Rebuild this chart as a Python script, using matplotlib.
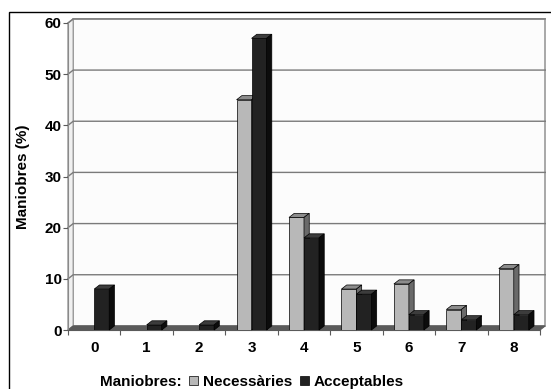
import numpy as np
import matplotlib.pyplot as plt
from matplotlib.patches import Polygon, Rectangle

plt.rcParams['font.family'] = ['Liberation Sans', 'DejaVu Sans']
plt.rcParams['font.weight'] = 'bold'

categories = ['0', '1', '2', '3', '4', '5', '6', '7', '8']
necessaries = [0, 0, 0, 45, 22, 8, 9, 4, 12]
acceptables = [8, 1, 1, 57, 18, 7, 3, 2, 3]

W, H = 551, 389
fig = plt.figure(figsize=(W / 100, H / 100), dpi=100)
ax = fig.add_axes([68 / W, 59 / H, 472 / W, 307 / H])
ax.set_xlim(-0.5, 8.5)
ax.set_ylim(0, 60)

dx, dy = 0.1, 0.8   # depth offset of the pseudo 3D box
x = np.arange(len(categories))
w = 0.286

gray = ('#b8b8b8', '#8c8c8c', '#6a6a6a')
dark = ('#222222', '#3c3c3c', '#0c0c0c')

# back wall, left wall and floor
ax.add_patch(Polygon([(-0.5 + dx, dy), (8.5 + dx, dy), (8.5 + dx, 60 + dy), (-0.5 + dx, 60 + dy)],
                     closed=True, fc='#fcfcfc', ec='#9a9a9a', lw=1.2, zorder=0, clip_on=False))
ax.add_patch(Polygon([(-0.5, 0), (-0.5 + dx, dy), (-0.5 + dx, 60 + dy), (-0.5, 60)],
                     closed=True, fc='#f0f0f0', ec='#9a9a9a', lw=1.0, zorder=0, clip_on=False))
for yv in range(10, 61, 10):
    ax.plot([-0.5, -0.5 + dx, 8.5 + dx], [yv, yv + dy, yv + dy], color='#7a7a7a', lw=1.0,
            zorder=1, clip_on=False)
ax.add_patch(Polygon([(-0.5, 0), (8.5, 0), (8.5 + dx, dy), (-0.5 + dx, dy)],
                     closed=True, fc='#5a5a5a', ec='#5a5a5a', lw=0.8, zorder=1, clip_on=False))


def bars3d(xpos, vals, colors, z):
    front, top, side = colors
    cont = ax.bar(xpos, vals, w, color=front, edgecolor='black', linewidth=0.5, zorder=z)
    for rect, v in zip(cont.patches, vals):
        if v == 0:
            rect.set_visible(False)
            continue
        L = rect.get_x()
        R = L + rect.get_width()
        h = rect.get_height()
        ax.add_patch(Polygon([(L, h), (R, h), (R + dx, h + dy), (L + dx, h + dy)], closed=True,
                             fc=top, ec='black', lw=0.5, zorder=z, clip_on=False))
        ax.add_patch(Polygon([(R, 0), (R + dx, dy), (R + dx, h + dy), (R, h)], closed=True,
                             fc=side, ec='black', lw=0.5, zorder=z, clip_on=False))
    return cont


bars3d(x - w / 2, necessaries, gray, 3)
bars3d(x + w / 2, acceptables, dark, 4)

for s in ['top', 'right']:
    ax.spines[s].set_visible(False)
ax.spines['left'].set_color('#8a8a8a')
ax.spines['bottom'].set_color('#5a5a5a')
ax.set_facecolor('none')

ax.set_yticks(range(0, 61, 10))
ax.set_xticks(x)
ax.set_xticklabels(categories)
ax.set_xticks(np.arange(-0.5, 9, 1), minor=True)
ax.tick_params(axis='x', which='major', length=0, pad=8, labelsize=11)
ax.tick_params(axis='x', which='minor', length=3.5, width=0.8, color='#5a5a5a')
ax.tick_params(axis='y', length=3.5, width=0.8, color='#5a5a5a', pad=1, labelsize=11)
ax.set_ylabel('Maniobres (%)', fontsize=11, fontweight='bold')
ax.yaxis.set_label_coords(-38 / 472, 0.5)

# legend along the bottom
ly = 7 / H
handles = [Rectangle((0, 0), 1, 1, fc=gray[0], ec='black', lw=0.5, label='Necessàries'),
           Rectangle((0, 0), 1, 1, fc=dark[0], ec='black', lw=0.5, label='Acceptables')]
fig.text(100 / W, ly, 'Maniobres:', fontsize=11, fontweight='bold', va='center')
fig.legend(handles=handles, ncol=2, frameon=False, fontsize=11,
           loc='center left', bbox_to_anchor=(189 / W, ly),
           handlelength=0.6, handleheight=0.6, handletextpad=0.3, columnspacing=0.5,
           borderaxespad=0, borderpad=0)

# chart frame
fig.patches.append(Rectangle((9 / W, -0.05), 1.0, 1 - 12 / H + 0.05, transform=fig.transFigure,
                             fill=False, ec='black', lw=1.0))

fig.savefig('out.png', dpi=100)
